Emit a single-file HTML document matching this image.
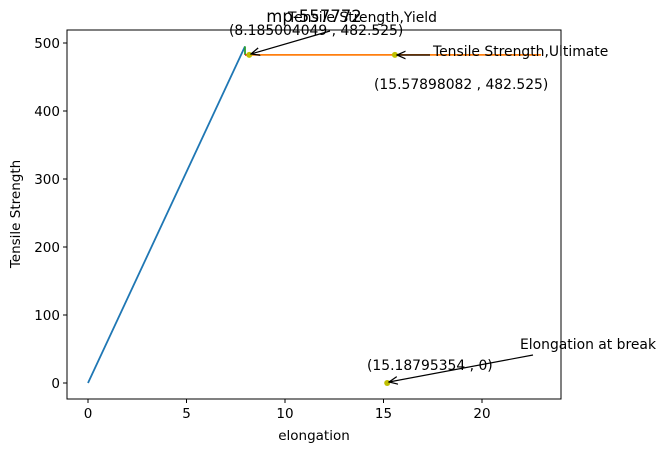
<!DOCTYPE html>
<html><head><meta charset="utf-8"><style>
body{margin:0;background:#fff;}
text{font-family:"DejaVu Sans","Liberation Sans",sans-serif;}
</style></head><body>
<svg width="666" height="453" xmlns="http://www.w3.org/2000/svg">
<defs><marker id="ah" viewBox="0 0 10 10" refX="9" refY="5" markerWidth="8" markerHeight="8" orient="auto"><path d="M0,1 L9,5 L0,9" fill="none" stroke="#000" stroke-width="1.3"/></marker></defs>
<rect x="67" y="30" width="494" height="369" fill="none" stroke="#000" stroke-width="1"/>
<g id="ticks"></g>
<g id="marks"></g>
<text x="314" y="22" font-size="16.5" text-anchor="middle">mp-557772</text>
<text x="314" y="440" font-size="13.5" text-anchor="middle">elongation</text>
<text transform="translate(20,214) rotate(-90)" font-size="13.5" text-anchor="middle">Tensile Strength</text>
<text x="288" y="22" font-size="13.9">Tensile Strength,Yield</text>
<text x="229" y="35" font-size="13.9">(8.185004049 , 482.525)</text>
<line x1="330" y1="31" x2="251" y2="54" stroke="#000" stroke-width="1.2" marker-end="url(#ah)"/>
<text x="433" y="56" font-size="13.9">Tensile Strength,Ultimate</text>
<text x="374" y="89" font-size="13.9">(15.57898082 , 482.525)</text>
<line x1="430" y1="55" x2="397" y2="55" stroke="#000" stroke-width="1.2" marker-end="url(#ah)"/>
<text x="520" y="349" font-size="13.9">Elongation at break</text>
<text x="367" y="370" font-size="13.9">(15.18795354 , 0)</text>
<line x1="533" y1="355" x2="389" y2="382" stroke="#000" stroke-width="1.2" marker-end="url(#ah)"/>
</svg>
<script>
const xTicks=[0,5,10,15,20];
const yTicks=[0,100,200,300,400,500];
const elasticX=[0,7.97];
const elasticY=[0,495];
const yieldSegX=[7.97,7.97];
const yieldSegY=[482.525,495];
const redX=[7.97,8.185];
const redY=[482.525,482.525];
const plasticX=[8.185,23];
const plasticY=[482.525,482.525];
const pointsX=[8.185004049,15.57898082,15.18795354];
const pointsY=[482.525,482.525,0];
const sx=v=>88+v*19.7, sy=v=>383-v*0.68;
const NS="http://www.w3.org/2000/svg";
const T=document.getElementById('ticks'),M=document.getElementById('marks');
function mk(tag,a,p){const e=document.createElementNS(NS,tag);for(const k in a)e.setAttribute(k,a[k]);p.appendChild(e);return e;}
xTicks.forEach(t=>{const l=mk('line',{x1:sx(t),x2:sx(t),y1:399,y2:403,stroke:'#000'},T);


const s=mk('text',{x:sx(t),y:418,'font-size':13.5,'text-anchor':'middle'},T);s.textContent=t;

});
yTicks.forEach(t=>{const l=mk('line',{x1:63,x2:67,y1:sy(t),y2:sy(t),stroke:'#000'},T);


const s=mk('text',{x:60,y:sy(t)+5,'font-size':13.5,'text-anchor':'end'},T);s.textContent=t;

});
function line(xs,ys,c,n){const e=mk('polyline',{points:xs.map((x,i)=>sx(x)+','+sy(ys[i])).join(' '),fill:'none',stroke:c,'stroke-width':1.8},M);

}
line(elasticX,elasticY,'#1f77b4','elastic-line');
line(plasticX,plasticY,'#ff7f0e','plastic-line');
line(yieldSegX,yieldSegY,'#2ca02c','yield-segment');
line(redX,redY,'#d62728','offset-segment');
pointsX.forEach((x,i)=>{const c=mk('circle',{cx:sx(x),cy:sy(pointsY[i]),r:3,fill:'#bfbf00'},M);

});
</script>
</body></html>
